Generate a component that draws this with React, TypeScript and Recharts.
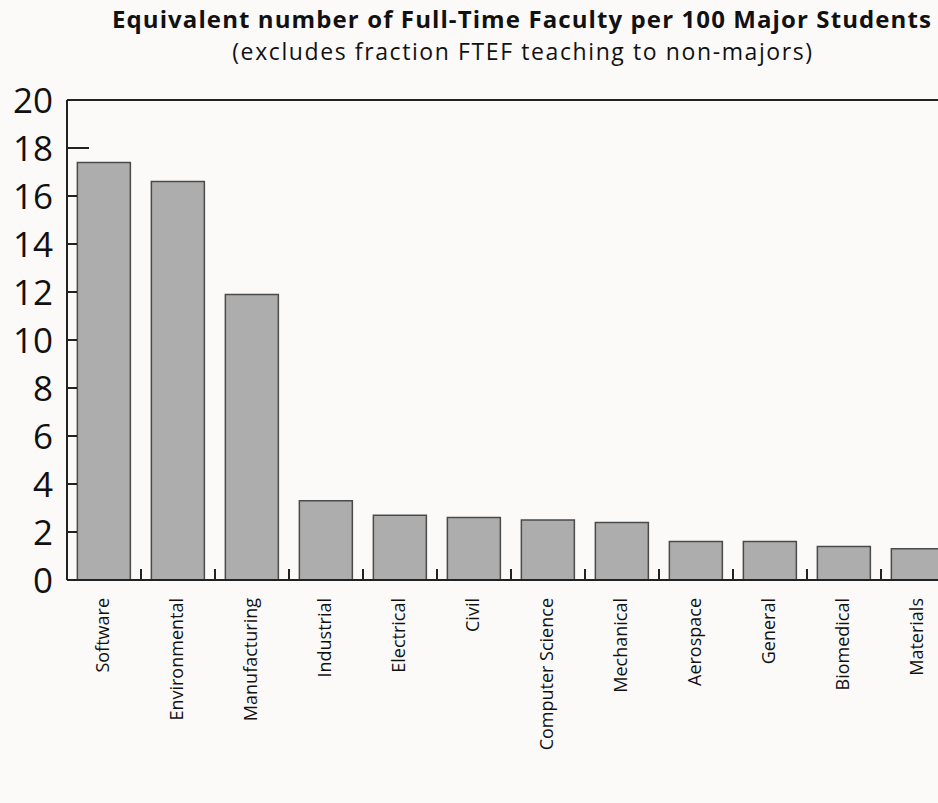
import { BarChart, Bar, XAxis, YAxis, ReferenceLine } from "recharts";

const categories = [
  "Software",
  "Environmental",
  "Manufacturing",
  "Industrial",
  "Electrical",
  "Civil",
  "Computer Science",
  "Mechanical",
  "Aerospace",
  "General",
  "Biomedical",
  "Materials",
];
const facultyPer100 = [17.4, 16.6, 11.9, 3.3, 2.7, 2.6, 2.5, 2.4, 1.6, 1.6, 1.4, 1.3];
const yTicks = [0, 2, 4, 6, 8, 10, 12, 14, 16, 18, 20];

const data = categories.map((name, i) => ({ name, value: facultyPer100[i] }));

const CHART_W = 965;
const CHART_H = 803;
const MARGIN = { top: 100, right: 10, bottom: 23, left: 7 };
const Y_W = 60;
const X_H = 200;
const plotW = CHART_W - MARGIN.left - MARGIN.right - Y_W;
const halfBand = plotW / categories.length / 2;
const AXIS = "#222";
const FONT = "'Open Sans', sans-serif";

const YTick = (props: any) => {
  const { x, y, payload } = props;
  const len = payload.value === 18 ? 22 : 10;
  return (
    <g>
      <text x={x} y={y} dy="0.36em" textAnchor="end" fontSize={35} fill="#111" fontFamily={FONT}>
        {payload.value}
      </text>
      {payload.value !== 0 && payload.value !== 20 && (
        <line x1={x + 14} x2={x + 14 + len} y1={y} y2={y} stroke={AXIS} strokeWidth={2} />
      )}
    </g>
  );
};

const XTick = (props: any) => {
  const { x, y, payload } = props;
  const base = y - 18;
  return (
    <g>
      <line x1={x + halfBand} x2={x + halfBand} y1={base} y2={base - 11} stroke={AXIS} strokeWidth={2} />
      <text
        x={x}
        y={y}
        dy="0.3em"
        textAnchor="end"
        transform={`rotate(-90, ${x}, ${y})`}
        fontSize={18}
        fill="#111"
        fontFamily={FONT}
      >
        {payload.value}
      </text>
    </g>
  );
};

export default function App() {
  return (
    <div
      style={{
        position: "absolute",
        left: 0,
        top: 0,
        width: 938,
        height: 803,
        overflow: "hidden",
        background: "#fcfaf9",
        fontFamily: FONT,
      }}
    >
      <div
        style={{
          position: "absolute",
          left: 0,
          width: 1044,
          top: 2,
          lineHeight: "normal",
          textAlign: "center",
          fontSize: 24,
          fontWeight: 700,
          color: "#111",
          letterSpacing: 1.1,
        }}
      >
        Equivalent number of Full-Time Faculty per 100 Major Students
      </div>
      <div
        style={{
          position: "absolute",
          left: 0,
          width: 1046,
          top: 35,
          lineHeight: "normal",
          textAlign: "center",
          fontSize: 23,
          color: "#111",
          letterSpacing: 1.6,
        }}
      >
        (excludes fraction FTEF teaching to non-majors)
      </div>
      <div style={{ position: "absolute", left: 0, top: 0 }}>
        <BarChart width={CHART_W} height={CHART_H} data={data} margin={MARGIN} barCategoryGap="14%">
          <XAxis
            dataKey="name"
            height={X_H}
            interval={0}
            tickSize={0}
            tickMargin={18}
            tick={<XTick />}
            axisLine={{ stroke: AXIS, strokeWidth: 2 }}
          />
          <YAxis
            width={Y_W}
            domain={[0, 20]}
            ticks={yTicks}
            interval={0}
            tickSize={0}
            tickMargin={14}
            tick={<YTick />}
            axisLine={{ stroke: AXIS, strokeWidth: 2 }}
          />
          <ReferenceLine y={20} stroke={AXIS} strokeWidth={2} />
          <Bar dataKey="value" fill="#adadad" stroke="#4a4a4a" strokeWidth={1.5} isAnimationActive={false} />
        </BarChart>
      </div>
    </div>
  );
}
